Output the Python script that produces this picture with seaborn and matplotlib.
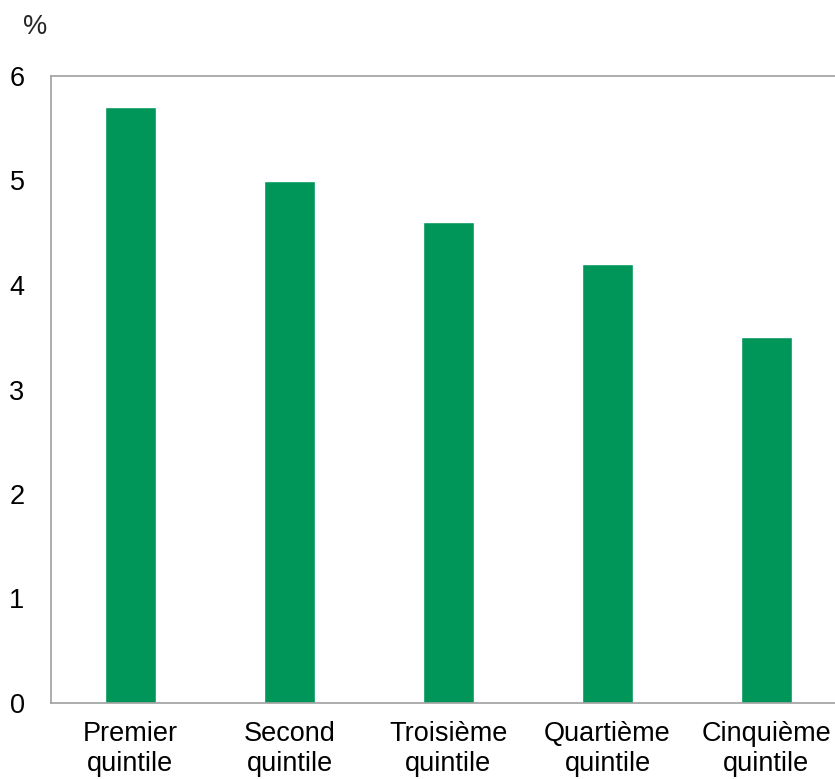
import matplotlib
matplotlib.use("Agg")
import matplotlib.pyplot as plt
import seaborn as sns
import pandas as pd

categories = ["Premier\nquintile", "Second\nquintile", "Troisième\nquintile", "Quartième\nquintile", "Cinquième\nquintile"]
values = [5.7, 5.0, 4.6, 4.2, 3.5]
yticks = [0, 1, 2, 3, 4, 5, 6]

sns.set_theme(style="white")
plt.rcParams['font.family'] = ['Liberation Sans', 'DejaVu Sans']

fig = plt.figure(figsize=(8.35, 7.79), dpi=100)
ax = fig.add_axes([51/835, 76/779, 795/835, 627/779])
df = pd.DataFrame({"cat": categories, "val": values})
sns.barplot(data=df, x="cat", y="val", color="#00965A", saturation=1, width=0.32, ax=ax)
ax.set_xlim(-0.5, 4.5)
ax.set_ylim(0, 6)
ax.set_yticks(yticks)
ax.set_xlabel("")
ax.set_ylabel("")
for s in ["left", "top", "bottom"]:
    ax.spines[s].set_color("#A0A0A0")
    ax.spines[s].set_linewidth(1.2)
ax.spines["right"].set_visible(False)
fs = 19.5
ax.tick_params(axis="y", length=0, pad=19, labelsize=fs, colors="black")
ax.tick_params(axis="x", length=0, pad=13, labelsize=fs, colors="black")
for lab in ax.get_xticklabels():
    lab.set_linespacing(1.2)
fig.text(35/835, 1 - 27/779, "%", ha="center", va="center", fontsize=fs)
fig.savefig("out.png", dpi=100)
